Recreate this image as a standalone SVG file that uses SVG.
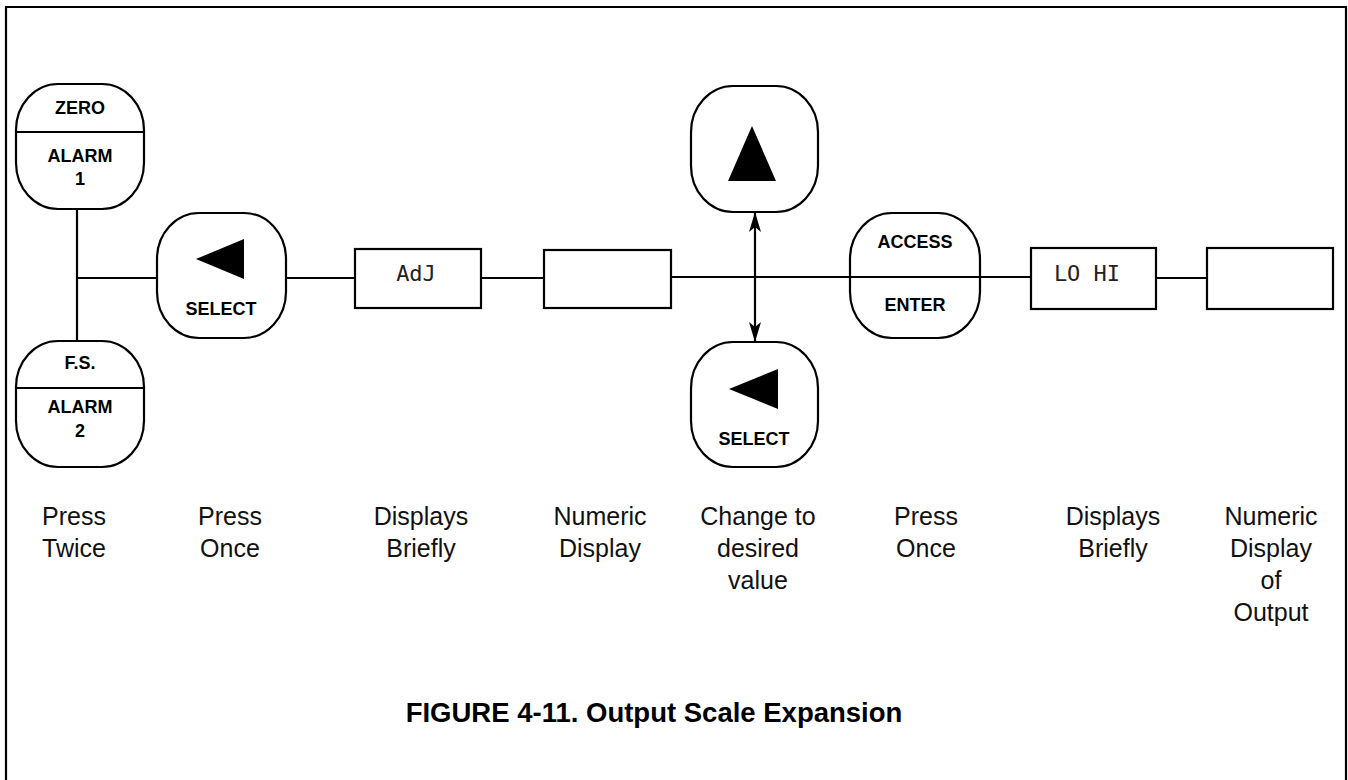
<svg xmlns="http://www.w3.org/2000/svg" width="1348" height="780" viewBox="0 0 1348 780">
<style>
  .frame{fill:none;stroke:#000;stroke-width:2.2}
  .btn{fill:#fff;stroke:#000;stroke-width:2.2}
  .box{fill:#fff;stroke:#000;stroke-width:2.2}
  .ln{fill:none;stroke:#000;stroke-width:2.2}
  .bt{font-family:"Liberation Sans",Arial,sans-serif;font-weight:bold;font-size:18px;text-anchor:middle;fill:#000}
  .lbl{font-family:"Liberation Sans",Arial,sans-serif;font-size:25px;text-anchor:middle;fill:#111}
  .seg{font-family:"DejaVu Sans Mono","Liberation Mono",monospace;font-size:22px;text-anchor:middle;fill:#222}
  .title{font-family:"Liberation Sans",Arial,sans-serif;font-weight:bold;font-size:27.5px;text-anchor:middle;fill:#000}
</style>
<defs>
  <marker id="ah" viewBox="0 0 20 12" refX="19" refY="6" markerWidth="20" markerHeight="12" markerUnits="userSpaceOnUse" orient="auto-start-reverse">
    <path d="M0,0 L20,6 L0,12 L5,6 Z" fill="#000"/>
  </marker>
</defs>
<rect width="1348" height="780" fill="#fff"/>
<path class="frame" d="M6,790 V7 H1346 V790"/>

<g id="connectors">
  <line class="ln" x1="77" y1="209" x2="77" y2="341"/>
  <line class="ln" x1="77" y1="278" x2="157" y2="278"/>
  <line class="ln" x1="286" y1="278" x2="355" y2="278"/>
  <line class="ln" x1="481" y1="278" x2="544" y2="278"/>
  <line class="ln" x1="671" y1="277" x2="1031" y2="277"/>
  <line class="ln" x1="1156" y1="278" x2="1207" y2="278"/>
  <line class="ln" x1="755" y1="213" x2="755" y2="341" marker-start="url(#ah)" marker-end="url(#ah)"/>
</g>

<g id="zero-alarm1">
  <rect class="btn" x="16" y="84" width="128" height="125" rx="42" ry="46"/>
  <line class="ln" x1="16" y1="132" x2="144" y2="132"/>
  <text class="bt" x="80" y="114">ZERO</text>
  <text class="bt" x="80" y="162">ALARM</text>
  <text class="bt" x="80" y="185">1</text>
</g>

<g id="fs-alarm2">
  <rect class="btn" x="16" y="341" width="128" height="126" rx="42" ry="46"/>
  <line class="ln" x1="16" y1="388" x2="144" y2="388"/>
  <text class="bt" x="80" y="369">F.S.</text>
  <text class="bt" x="80" y="413">ALARM</text>
  <text class="bt" x="80" y="437">2</text>
</g>

<g id="select1">
  <rect class="btn" x="157" y="213" width="129" height="125" rx="42" ry="46"/>
  <polygon points="196,259 244,239 244,279" fill="#000"/>
  <text class="bt" x="221" y="315">SELECT</text>
</g>

<g id="adj-display">
  <rect class="box" x="355" y="249" width="126" height="59"/>
  <text class="seg" x="416" y="281">AdJ</text>
</g>

<g id="numeric-display1">
  <rect class="box" x="544" y="250" width="127" height="58"/>
</g>

<g id="up">
  <rect class="btn" x="691" y="86" width="127" height="126" rx="42" ry="46"/>
  <polygon points="752,126 776,181 728,181" fill="#000"/>
</g>

<g id="select2">
  <rect class="btn" x="691" y="342" width="127" height="125" rx="42" ry="46"/>
  <polygon points="729,389 778,369 778,409" fill="#000"/>
  <text class="bt" x="754" y="445">SELECT</text>
</g>

<g id="access-enter">
  <rect class="btn" x="850" y="213" width="130" height="125" rx="42" ry="46" fill="none"/>
  <line class="ln" x1="850" y1="277" x2="980" y2="277"/>
  <text class="bt" x="915" y="248">ACCESS</text>
  <text class="bt" x="915" y="311">ENTER</text>
</g>

<g id="lohi-display">
  <rect class="box" x="1031" y="248" width="125" height="61"/>
  <text class="seg" x="1087" y="281">LO HI</text>
</g>

<g id="numeric-display2">
  <rect class="box" x="1207" y="248" width="126" height="61"/>
</g>

<g id="labels">
  <text class="lbl" x="74" y="525">Press</text>
  <text class="lbl" x="74" y="557">Twice</text>
  <text class="lbl" x="230" y="525">Press</text>
  <text class="lbl" x="230" y="557">Once</text>
  <text class="lbl" x="421" y="525">Displays</text>
  <text class="lbl" x="421" y="557">Briefly</text>
  <text class="lbl" x="600" y="525">Numeric</text>
  <text class="lbl" x="600" y="557">Display</text>
  <text class="lbl" x="758" y="525">Change to</text>
  <text class="lbl" x="758" y="557">desired</text>
  <text class="lbl" x="758" y="589">value</text>
  <text class="lbl" x="926" y="525">Press</text>
  <text class="lbl" x="926" y="557">Once</text>
  <text class="lbl" x="1113" y="525">Displays</text>
  <text class="lbl" x="1113" y="557">Briefly</text>
  <text class="lbl" x="1271" y="525">Numeric</text>
  <text class="lbl" x="1271" y="557">Display</text>
  <text class="lbl" x="1271" y="589">of</text>
  <text class="lbl" x="1271" y="621">Output</text>
</g>

<text class="title" x="654" y="722">FIGURE 4-11. Output Scale Expansion</text>
</svg>
